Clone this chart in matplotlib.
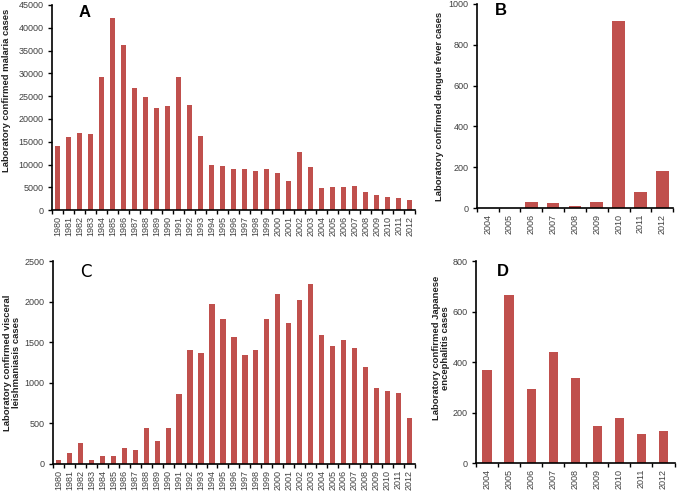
import numpy as np
import matplotlib
matplotlib.use("Agg")
from matplotlib import pyplot as plt
from matplotlib import transforms as mtransforms

plt.rcParams['font.family'] = ['Liberation Sans', 'DejaVu Sans']

years_long = [str(y) for y in range(1980, 2013)]
years_short = [str(y) for y in range(2004, 2013)]

malaria = [14100, 16100, 16900, 16600, 29300, 42200, 36300, 26800, 24900, 22300,
           22800, 29100, 23100, 16300, 9900, 9600, 9000, 9000, 8500, 9000,
           8100, 6400, 12800, 9500, 4800, 5000, 5000, 5200, 3900, 3300,
           2900, 2600, 2200]
dengue = [0, 0, 32, 25, 10, 28, 915, 78, 183]
leish = [50, 130, 260, 55, 95, 95, 200, 170, 440, 285,
         445, 865, 1400, 1370, 1975, 1790, 1570, 1345, 1405, 1790,
         2090, 1735, 2025, 2220, 1585, 1460, 1530, 1435, 1195, 935,
         900, 880, 570]
jev = [370, 668, 295, 440, 338, 145, 180, 115, 128]

bar_color = '#C0504D'
tick_color = '#404040'
W = 680.0


def panel(rect, labels, values, ymax, ystep, ylabel, label_x, label_y,
          letter, letter_pos, width, letter_font=None):
    ax = fig.add_axes(rect)
    x = np.arange(len(labels))
    ax.bar(x, values, width=width, color=bar_color, zorder=2)
    ax.set_xlim(-0.5, len(labels) - 0.5)
    ax.set_ylim(0, ymax)
    ax.set_yticks(np.arange(0, ymax + 1, ystep))
    ax.set_xticks(x)
    ax.set_xticklabels(labels, rotation=90)
    # tick marks between categories, like the spreadsheet original
    ax.set_xticks(np.arange(-0.5, len(labels)), minor=True)
    ax.tick_params(axis='x', which='major', length=0, labelsize=6.5, colors=tick_color, pad=4)
    ax.tick_params(axis='x', which='minor', length=3, width=1, direction='out', color='black')
    ax.tick_params(axis='y', length=3, width=1, labelsize=6.5, labelcolor=tick_color,
                   color='black', pad=3)
    for s in ['top', 'right']:
        ax.spines[s].set_visible(False)
    for s in ['left', 'bottom']:
        ax.spines[s].set_linewidth(1.2)
    ax.set_ylabel(ylabel, fontsize=6.8, fontweight='bold', color='#222222', linespacing=1.05)
    trans = mtransforms.blended_transform_factory(fig.transFigure, ax.transAxes)
    ax.yaxis.set_label_coords(label_x / W, label_y, transform=trans)
    kw = dict(fontsize=12, fontweight='bold')
    if letter_font:
        kw = dict(fontsize=12, family=letter_font)
    ax.text(letter_pos[0], letter_pos[1], letter, transform=ax.transAxes,
            ha='left', va='center', **kw)
    return ax


fig = plt.figure(figsize=(6.8, 4.91), dpi=100)

panel([0.0765, 0.572, 0.534, 0.418], years_long, malaria, 45000, 5000,
      'Laboratory confirmed malaria cases', 11, 0.585, 'A', (0.072, 0.965), 0.48)
panel([0.701, 0.576, 0.289, 0.416], years_short, dengue, 1000, 200,
      'Laboratory confirmed dengue fever cases', 444, 0.5, 'B', (0.092, 0.97), 0.58)
panel([0.078, 0.055, 0.532, 0.413], years_long, leish, 2500, 500,
      'Laboratory confirmed visceral\nleishmaniasis cases', 21, 0.5, 'C', (0.075, 0.946), 0.48,
      letter_font='DejaVu Sans')
panel([0.700, 0.057, 0.292, 0.411], years_short, jev, 800, 200,
      'Laboratory confirmed Japanese\nencephalitis cases', 450, 0.57, 'D', (0.104, 0.95), 0.42)

fig.savefig('out.png', dpi=100)
